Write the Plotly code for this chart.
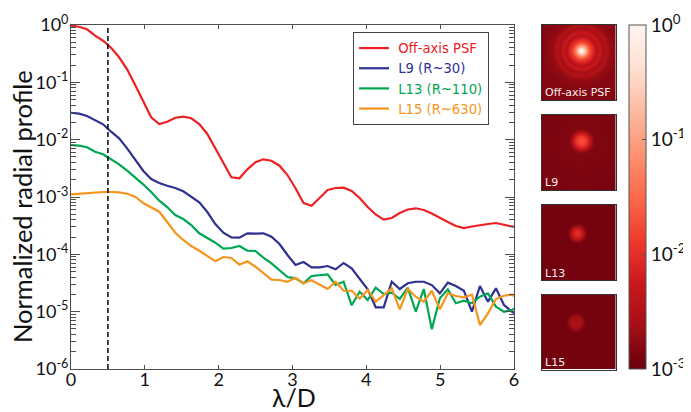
import numpy as np
import plotly.graph_objects as go

# the page places the figure 8 px in from its top-left corner
PAGE = 8
W, H = 691 - PAGE, 412 - PAGE

# log10 of each profile
step = 0.1086
psf_log = [-0.012,-0.030,-0.075,-0.187,-0.274,-0.396,-0.563,-0.773,-1.047,-1.338,-1.610,-1.727,-1.687,-1.617,-1.600,-1.627,-1.727,-1.901,-2.151,-2.412,-2.657,-2.674,-2.517,-2.395,-2.343,-2.367,-2.454,-2.617,-2.848,
           -3.105,-3.152,-3.018,-2.878,-2.843,-2.838,-2.896,-3.018,-3.175,-3.305,-3.396,-3.367,-3.279,-3.218,-3.197,-3.227,-3.288,-3.367,-3.436,-3.506,-3.541,-3.515,-3.489,-3.471,-3.454,-3.480,-3.515,-3.524]
l9_log = [-1.530,-1.547,-1.587,-1.657,-1.732,-1.861,-1.976,-2.151,-2.355,-2.541,-2.686,-2.756,-2.803,-2.843,-2.900,-2.995,-3.093,-3.262,-3.471,-3.623,-3.706,-3.710,-3.633,-3.640,-3.633,-3.693,-3.820,-4.012,-4.187,
          -4.134,-4.227,-4.227,-4.204,-4.262,-4.151,-4.244,-4.418,-4.610,-4.924,-4.924,-4.478,-4.605,-4.505,-4.478,-4.478,-4.536,-4.680,-4.495,-4.553,-4.635,-5.001,-4.553,-4.826,-4.593,-4.884,-5.001,-5.076]
l13_log = [-2.093,-2.105,-2.133,-2.210,-2.255,-2.337,-2.430,-2.541,-2.657,-2.779,-2.913,-3.065,-3.175,-3.314,-3.384,-3.489,-3.633,-3.710,-3.797,-3.902,-3.890,-3.855,-3.937,-3.942,-4.059,-4.157,-4.274,-4.396,-4.418,
           -4.505,-4.378,-4.366,-4.349,-4.535,-4.478,-4.889,-4.652,-4.797,-4.582,-4.692,-4.669,-4.779,-4.582,-5.001,-4.605,-5.308,-4.767,-4.610,-4.854,-4.809,-4.854,-4.739,-4.680,-4.913,-5.001,-4.971,-4.884]
l15_log = [-2.953,-2.943,-2.930,-2.918,-2.913,-2.913,-2.918,-2.943,-2.995,-3.105,-3.175,-3.257,-3.436,-3.623,-3.750,-3.855,-3.937,-4.024,-4.122,-4.047,-4.064,-4.181,-4.122,-4.216,-4.331,-4.442,-4.448,-4.478,-4.408,
           -4.505,-4.453,-4.523,-4.605,-4.478,-4.635,-4.635,-4.774,-4.622,-4.826,-4.710,-4.593,-4.959,-4.605,-4.739,-4.826,-4.635,-4.959,-4.680,-4.727,-4.750,-4.704,-5.233,-5.029,-4.779,-4.722,-4.704,-4.797]
series_names = ["Off-axis PSF", "L9 (R~30)", "L13 (R~110)", "L15 (R~630)"]
series_colors = ["#ed2024", "#2e3192", "#00a651", "#f7941d"]
iwa = 0.5

# radial brightness of the thumbnails (radius in screen px, log10 level)
thumb_labels = ["Off-axis PSF", "L9", "L13", "L15"]
psf_r = [0, 2, 4, 6, 8, 10, 12, 14, 15.5, 18, 21, 22, 25, 29, 33, 38, 80]
psf_v = [0, -0.3, -0.8, -1.3, -1.7, -1.95, -2.1, -2.35, -2.5, -2.25, -2.55, -2.6, -2.5, -2.72, -2.76, -2.82, -2.85]
l9_r = [0, 4, 7, 9, 11, 13, 80]
l9_v = [-1.7, -1.85, -2.15, -2.45, -2.72, -2.85, -2.92]
l13_r = [0, 3, 5, 7, 9, 11, 80]
l13_v = [-2.0, -2.1, -2.3, -2.6, -2.85, -2.92, -2.93]
l15_r = [0, 5, 7, 9, 11, 80]
l15_v = [-2.6, -2.6, -2.72, -2.87, -2.92, -2.93]

y_ticks = [1e-6, 1e-5, 1e-4, 1e-3, 1e-2, 1e-1, 1e0]
y_ticktext = ["10<sup>-6</sup>", "10<sup>-5</sup>", "10<sup>-4</sup>", "10<sup>-3</sup>", "10<sup>-2</sup>", "10<sup>-1</sup>", "10<sup>0</sup>"]
cbar_ticks = [-3, -2, -1, 0]
cbar_text = ["10<sup>-3</sup>", "10<sup>-2</sup>", "10<sup>-1</sup>", "10<sup>0</sup>"]
reds_r = ["#67000d", "#a50f15", "#cb181d", "#ef3b2c", "#fb6a4a", "#fc9272", "#fcbba1", "#fee0d2", "#fff5f0"]

lam = [i * step for i in range(len(psf_log))]
SPINE = "#4d4d4d"
TXT = "Lato, sans-serif"

fig = go.Figure()
for name, color, logs in zip(series_names, series_colors, [psf_log, l9_log, l13_log, l15_log]):
    fig.add_trace(go.Scatter(
        x=lam, y=[10 ** v for v in logs], name=f'<span style="color:{color}">&nbsp;{name}</span>',
        mode="lines", line=dict(color=color, width=2.2),
    ))
fig.add_trace(go.Scatter(
    x=[iwa, iwa], y=[y_ticks[0], y_ticks[-1]], mode="lines", showlegend=False,
    line=dict(color="black", width=1.5, dash="5px,3px"),
))

def fx(px): return (px - PAGE) / W
def fy(px): return 1 - (px - PAGE) / H

boxes = [(541.5, 616, 25, 100), (541.5, 616, 115, 190), (541.5, 616, 205, 280), (541.5, 616, 295, 369.5)]
centers = [(581.3, 51), (581.3, 141.3), (577, 233.7), (575.7, 322.7)]
profiles = [(psf_r, psf_v), (l9_r, l9_v), (l13_r, l13_v), (l15_r, l15_v)]
layout_axes = {}
annotations = [
    dict(text="λ/D", x=fx(294), y=fy(396.5), xref="paper", yref="paper", xanchor="center", yanchor="middle",
         showarrow=False, font=dict(family=TXT, size=25, color="#111111")),
    dict(text="Normalized radial profile", x=fx(22), y=fy(207), xref="paper", yref="paper", xanchor="center",
         yanchor="middle", textangle=-90, showarrow=False, font=dict(family=TXT, size=25.5, color="#111111")),
]
for k, (box, c, prof, lab) in enumerate(zip(boxes, centers, profiles, thumb_labels)):
    x0, x1, y0, y1 = box
    xs = np.arange(x0 + 0.5, x1, 1.0)
    ys = np.arange(y0 + 0.5, y1, 1.0)
    xx, yy = np.meshgrid(xs, ys)
    z = np.interp(np.hypot(xx - c[0], yy - c[1]), prof[0], prof[1])
    n = k + 2
    fig.add_trace(go.Heatmap(x=xs, y=ys, z=z, coloraxis="coloraxis", xaxis=f"x{n}", yaxis=f"y{n}",
                             showscale=False, hoverinfo="skip"))
    layout_axes[f"xaxis{n}"] = dict(domain=[fx(x0), fx(x1)], range=[x0, x1], anchor=f"y{n}",
                                    showticklabels=False, ticks="", showgrid=False, zeroline=False,
                                    showline=True, mirror=True, linecolor="#333333", linewidth=1)
    layout_axes[f"yaxis{n}"] = dict(domain=[fy(y1), fy(y0)], range=[y1, y0], anchor=f"x{n}",
                                    showticklabels=False, ticks="", showgrid=False, zeroline=False,
                                    showline=True, mirror=True, linecolor="#333333", linewidth=1)
    annotations.append(dict(text=lab, x=fx(x0 + 1.5), y=fy(y1 - 7), xref="paper", yref="paper",
                            xanchor="left", yanchor="middle", showarrow=False,
                            font=dict(family="DejaVu Sans", size=11, color="#f5eeee")))

minor_vals = [m * 10.0 ** e for e in range(-6, 0) for m in range(2, 10)]

fig.update_layout(
    width=W, height=H, margin=dict(l=0, r=0, t=0, b=0, autoexpand=False),
    paper_bgcolor="white", plot_bgcolor="white", font=dict(family=TXT, color="#111111"),
    annotations=annotations,
    xaxis=dict(domain=[fx(71), fx(514)], range=[0, 6], tickvals=[0, 1, 2, 3, 4, 5, 6],
               ticks="inside", ticklen=4, tickcolor=SPINE, showgrid=False, zeroline=False,
               showline=True, linecolor=SPINE, linewidth=1, mirror="ticks", ticklabelstandoff=-6,
               tickfont=dict(size=18, family=TXT, color="#111111")),
    yaxis=dict(domain=[fy(369), fy(25)], type="log", range=[-6, 0], tickmode="array",
               tickvals=y_ticks, ticktext=y_ticktext, ticklabelstandoff=-2,
               ticks="inside", ticklen=9, tickcolor=SPINE, showgrid=False, zeroline=False,
               showline=True, linecolor=SPINE, linewidth=1, mirror="ticks",
               tickfont=dict(size=18, family=TXT, color="#111111"),
               minor=dict(tickmode="array", tickvals=minor_vals, ticks="inside", ticklen=5,
                          tickcolor=SPINE, showgrid=False)),
    legend=dict(x=fx(353), y=fy(32), xanchor="left", yanchor="top", bgcolor="white",
                bordercolor="#444444", borderwidth=1, font=dict(family="DejaVu Sans", size=13.2),
                tracegroupgap=0, entrywidth=105, entrywidthmode="pixels"),
    coloraxis=dict(cmin=-3, cmax=0,
                   colorscale=[[i / (len(reds_r) - 1), c] for i, c in enumerate(reds_r)],
                   colorbar=dict(x=fx(629), xanchor="left", xref="paper", xpad=0, ypad=0,
                                 y=fy(369), yanchor="bottom", yref="paper", len=344 / H, lenmode="fraction",
                                 thickness=17, thicknessmode="pixels", outlinecolor="#555555", outlinewidth=1,
                                 tickmode="array", tickvals=cbar_ticks, ticktext=cbar_text, ticks="inside",
                                 ticklen=4, tickcolor="#555555",
                                 tickfont=dict(size=19, family=TXT, color="#111111"))),
    **layout_axes,
)
fig.write_html("out.html")
